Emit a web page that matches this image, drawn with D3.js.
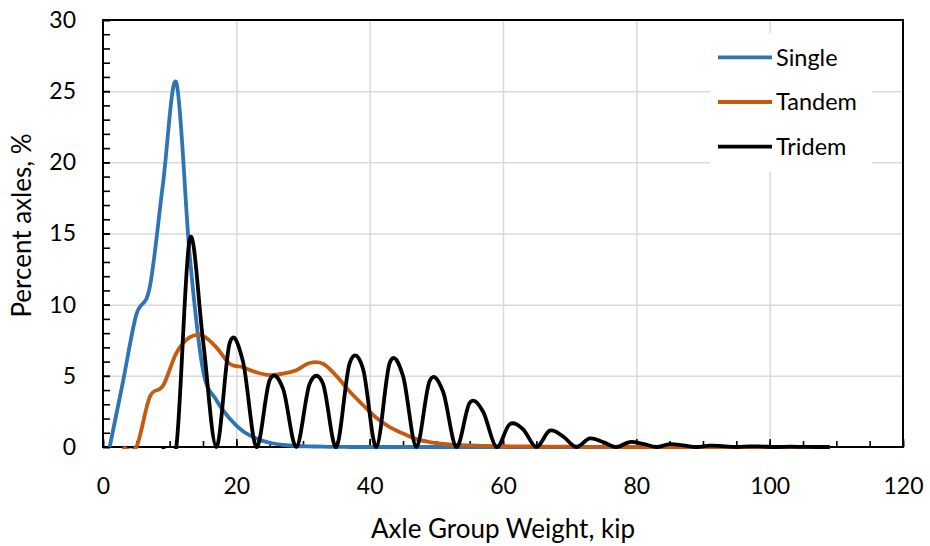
<!DOCTYPE html>
<html>
<head>
  <meta charset="utf-8">
  <title>Axle Group Weight Distribution</title>
  <script src="https://d3js.org/d3.v7.min.js"></script>
  <style>
    body { margin: 0; background: white; }
    .canvas { background-color: white; }
    .grid line { stroke: #d9d9d9; stroke-width: 1.5px; }
    .grid path { display: none; }
    .axis path { display: none; }
    .axis line { stroke: #000; stroke-width: 1.6px; }
    .axis text { font-family: Lato, "Open Sans", sans-serif; font-size: 23px; fill: #000; }
    .series { fill: none; stroke-width: 3.8px; stroke-linejoin: round; }
    .title { font-family: Lato, "Open Sans", sans-serif; font-size: 26px; fill: #000; }
    .legend text { font-family: Lato, "Open Sans", sans-serif; font-size: 23.5px; fill: #000; }
  </style>
</head>
<body>
<script>
  // Data (kip, percent of axles)
  var weights = [1, 3, 5, 7, 9, 11, 13, 15, 17, 19, 21, 23, 25, 27, 29, 31, 33, 35, 37, 39,
                 41, 43, 45, 47, 49, 51, 53, 55, 57, 59, 61, 63, 65, 67, 69, 71, 73, 75, 77, 79,
                 81, 83, 85, 87, 89, 91, 93, 95, 97, 99, 101, 103, 105, 107, 109];

  var single = [0, 4.6, 9.3, 11.2, 18.5, 25.6, 13.5, 5.4, 3.3, 2.0, 1.1, 0.6, 0.3, 0.15, 0.07, 0.04, 0.02, 0.01, 0, 0,
                0, 0, 0, 0, 0, 0, 0, 0, 0, 0, 0, 0, 0, 0, 0, 0, 0, 0, 0, 0,
                0, 0, 0, 0, 0, 0, 0, 0, 0, 0, 0, 0, 0, 0, 0];

  var tandem = [null, 0, 0, 3.5, 4.3, 6.6, 7.7, 7.8, 7.0, 5.85, 5.6, 5.25, 5.05, 5.15, 5.4, 5.9, 5.85, 5.0, 3.9, 2.95,
                2.05, 1.4, 0.95, 0.55, 0.35, 0.22, 0.15, 0.11, 0.08, 0.06, 0.05, 0.04, 0.03, 0.03, 0.02, 0.02, 0.01, 0.01, 0, 0,
                0, 0, 0, 0, 0, 0, 0, 0, 0, 0, 0, 0, 0, 0, 0];

  var tridem = [null, null, null, null, 0, 0, 14.6, 7.5, 0, 7.3, 6.0, 0, 4.7, 4.1, 0, 4.45, 4.45, 0, 5.9, 5.5,
                0, 5.9, 5.0, 0, 4.65, 3.9, 0, 3.1, 2.5, 0, 1.6, 1.25, 0, 1.15, 0.75, 0, 0.6, 0.35, 0, 0.35,
                0.22, 0, 0.2, 0.12, 0, 0.1, 0.06, 0, 0.05, 0.03, 0, 0.02, 0.01, 0, 0];

  var seriesNames = ["Single", "Tandem", "Tridem"];
  var seriesColors = ["#2e75b6", "#c55a11", "#000000"];

  var xTicks = [0, 20, 40, 60, 80, 100, 120];
  var yTicks = [0, 5, 10, 15, 20, 25, 30];

  // Consts
  var margin = {top: 20, right: 27, bottom: 99, left: 103};
  var width = 930;
  var height = 546;

  var svg = d3.select("body")
              .append("svg")
              .attr("width", width)
              .attr("height", height)
              .attr("class", "canvas");
  var g = svg.append("g")
             .attr("transform", "translate(" + margin.left + "," + margin.top + ")");

  width = width - margin.left - margin.right;
  height = height - margin.top - margin.bottom;

  // Scale
  var x = d3.scaleLinear().domain([0, 120]).range([0, width]),
      y = d3.scaleLinear().domain([0, 30]).range([height, 0]);

  var line = d3.line()
      .defined(function(d) { return d.v !== null; })
      .curve(d3.curveCardinal.tension(0))
      .x(function(d) { return x(d.w); })
      .y(function(d) { return y(d.v); });

  // Grid
  g.append("g")
      .attr("class", "grid")
      .attr("transform", "translate(0," + height + ")")
      .call(d3.axisBottom(x).tickValues(xTicks.slice(1, -1)).tickSize(-height).tickFormat(""));
  g.append("g")
      .attr("class", "grid")
      .call(d3.axisLeft(y).tickValues(yTicks.slice(1, -1)).tickSize(-width).tickFormat(""));

  // Minor ticks
  g.append("g")
      .attr("class", "axis")
      .attr("transform", "translate(0," + height + ")")
      .call(d3.axisBottom(x).ticks(30).tickSize(-6).tickFormat(""));
  g.append("g")
      .attr("class", "axis")
      .call(d3.axisLeft(y).ticks(30).tickSize(-7).tickFormat(""));

  // Major ticks and labels
  g.append("g")
      .attr("class", "axis")
      .attr("transform", "translate(0," + height + ")")
      .call(d3.axisBottom(x).tickValues(xTicks).tickSize(-8).tickPadding(31));
  g.append("g")
      .attr("class", "axis")
      .call(d3.axisLeft(y).tickValues(yTicks).tickSize(-7).tickPadding(27));

  // Frame
  g.append("rect")
      .attr("width", width)
      .attr("height", height)
      .attr("fill", "none")
      .attr("stroke", "#000")
      .attr("stroke-width", 2);

  // Axis titles
  g.append("text")
      .attr("class", "title")
      .attr("x", width / 2)
      .attr("y", height + 91)
      .attr("text-anchor", "middle")
      .text("Axle Group Weight, kip");
  g.append("text")
      .attr("class", "title")
      .attr("transform", "translate(" + (31 - margin.left) + "," + (height / 2 - 8) + ") rotate(-90)")
      .attr("text-anchor", "middle")
      .text("Percent axles, %");

  // Paths
  g.append("clipPath")
      .attr("id", "plotclip")
      .append("rect")
      .attr("x", 0)
      .attr("y", -2)
      .attr("width", width)
      .attr("height", height + 4);

  var data = [single, tandem, tridem].map(function(vals, i) {
    return {
      id: seriesNames[i],
      color: seriesColors[i],
      values: weights.map(function(w, j) { return {w: w, v: vals[j]}; })
    };
  });

  g.append("g")
      .attr("clip-path", "url(#plotclip)")
      .selectAll(".series")
      .data(data)
      .enter()
      .append("path")
      .attr("class", "series")
      .attr("d", function(d) { return line(d.values); })
      .style("stroke", function(d) { return d.color; });

  // Legend
  var legend = svg.append("g").attr("class", "legend");
  legend.append("rect")
      .attr("x", 710)
      .attr("y", 33)
      .attr("width", 162)
      .attr("height", 139)
      .attr("fill", "white");
  var item = legend.selectAll(".item")
      .data(data)
      .enter()
      .append("g")
      .attr("transform", function(d, i) { return "translate(718," + (57.3 + i * 44.7) + ")"; });
  item.append("line")
      .attr("x1", 0)
      .attr("x2", 54)
      .attr("stroke-width", 3.8)
      .attr("stroke", function(d) { return d.color; });
  item.append("text")
      .attr("x", 58)
      .attr("dy", "0.35em")
      .text(function(d) { return d.id; });
</script>
</body>
</html>
